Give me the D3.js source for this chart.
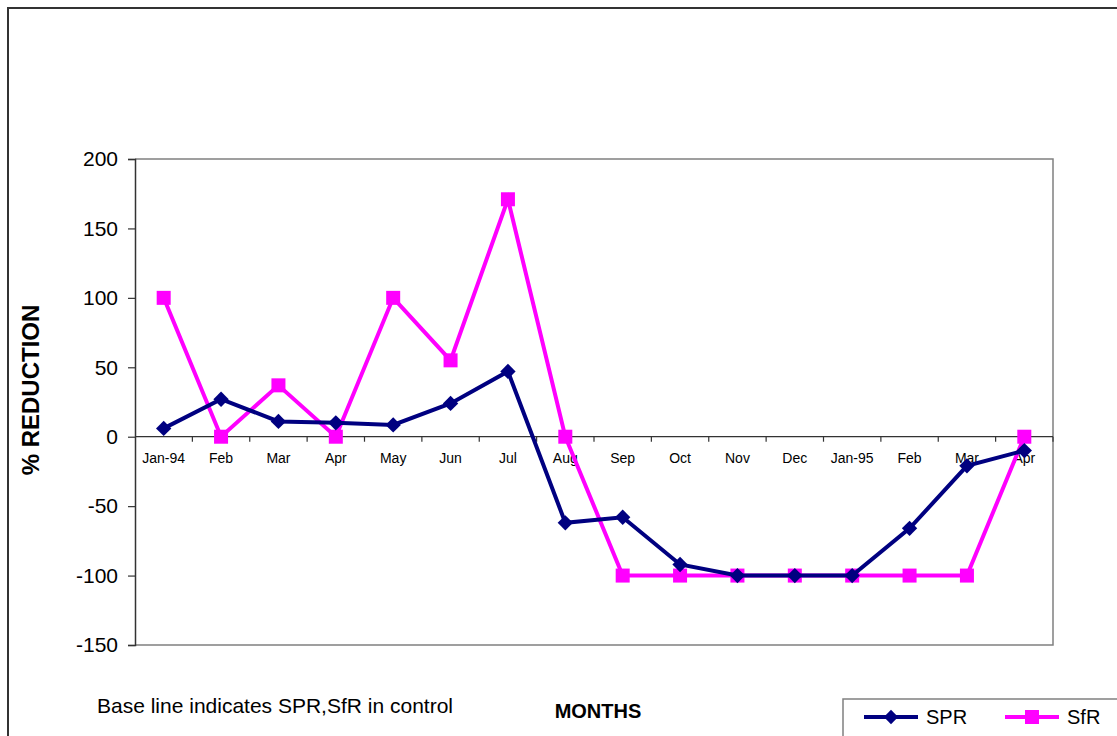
<!DOCTYPE html>
<html>
<head>
<meta charset="utf-8">
<script src="https://cdn.jsdelivr.net/npm/d3@7/dist/d3.min.js"></script>
<style>
  html, body { margin: 0; padding: 0; background: #fff; }
  svg { display: block; font-family: Arial, "Liberation Sans", sans-serif; }
</style>
</head>
<body>
<svg id="chart" width="1117" height="736"></svg>
<script>
// Monthly % reduction of SPR and SfR relative to control
const months = ["Jan-94", "Feb", "Mar", "Apr", "May", "Jun", "Jul", "Aug",
                "Sep", "Oct", "Nov", "Dec", "Jan-95", "Feb", "Mar", "Apr"];
const sprValues = [6, 27, 11, 10, 8.5, 24, 47, -62, -58, -92, -100, -100, -100, -66, -21, -10];
const sfrValues = [100, 0, 37, 0, 100, 55, 171, 0, -100, -100, -100, -100, -100, -100, -100, 0];
const yTicks = [-150, -100, -50, 0, 50, 100, 150, 200];

const svg = d3.select("#chart");
const plot = { left: 135, right: 1053, top: 159, bottom: 645 };

// months repeat, so the band scale is keyed by index
const x = d3.scaleBand()
  .domain(d3.range(months.length))
  .range([plot.left, plot.right]);
const y = d3.scaleLinear().domain([-150, 200]).range([plot.bottom, plot.top]);

// outer chart frame
svg.append("path")
  .attr("d", `M8,740 V8 H1120`)
  .attr("fill", "none")
  .attr("stroke", "#333")
  .attr("stroke-width", 2);

// plot area border (top, right, bottom)
svg.append("path")
  .attr("d", `M${plot.left},${plot.top} H${plot.right} V${plot.bottom} H${plot.left}`)
  .attr("fill", "none")
  .attr("stroke", "#808080")
  .attr("stroke-width", 1.5);

// y axis
const yAxis = svg.append("g")
  .attr("transform", `translate(${plot.left},0)`)
  .call(d3.axisLeft(y).tickValues(yTicks).tickSize(7).tickPadding(10).tickFormat(d => String(d)));
yAxis.select(".domain").attr("stroke", "#333").attr("stroke-width", 1.5);
yAxis.selectAll(".tick line").attr("stroke", "#333").attr("stroke-width", 1.2);
yAxis.selectAll(".tick text")
  .attr("font-size", 21)
  .attr("fill", "#000")
  .attr("font-family", "Arial, 'Liberation Sans', sans-serif");

// x axis along the zero line, ticks at band boundaries
const y0 = y(0);
const bounds = d3.range(months.length + 1).map(i => plot.left + i * x.step());
svg.append("line")
  .attr("x1", plot.left).attr("x2", plot.right)
  .attr("y1", y0).attr("y2", y0)
  .attr("stroke", "#333").attr("stroke-width", 1.2);
svg.append("g").selectAll("line").data(bounds.slice(1)).join("line")
  .attr("x1", d => d).attr("x2", d => d)
  .attr("y1", y0).attr("y2", y0 + 5)
  .attr("stroke", "#333").attr("stroke-width", 1.2);
svg.append("g").selectAll("text").data(months).join("text")
  .attr("x", (d, i) => x(i) + x.bandwidth() / 2)
  .attr("y", y0 + 26)
  .attr("text-anchor", "middle")
  .attr("font-size", 14)
  .attr("fill", "#000")
  .text(d => d);

const cx = i => x(i) + x.bandwidth() / 2;
const line = d3.line().x((d, i) => cx(i)).y(d => y(d));

// SfR series (magenta, squares)
svg.append("path")
  .attr("d", line(sfrValues))
  .attr("fill", "none")
  .attr("stroke", "#FF00FF")
  .attr("stroke-width", 4)
  .attr("stroke-linejoin", "miter");
svg.append("g").selectAll("rect").data(sfrValues).join("rect")
  .attr("x", (d, i) => cx(i) - 7)
  .attr("y", d => y(d) - 7)
  .attr("width", 14).attr("height", 14)
  .attr("fill", "#FF00FF");

// SPR series (navy, diamonds)
svg.append("path")
  .attr("d", line(sprValues))
  .attr("fill", "none")
  .attr("stroke", "#000080")
  .attr("stroke-width", 4)
  .attr("stroke-linejoin", "miter");
const diamond = d3.symbol().type(d3.symbolDiamond2).size(150);
svg.append("g").selectAll("path").data(sprValues).join("path")
  .attr("d", diamond)
  .attr("transform", (d, i) => `translate(${cx(i)},${y(d)})`)
  .attr("fill", "#000080");

// axis titles
svg.append("text")
  .attr("transform", `translate(39,${390}) rotate(-90)`)
  .attr("text-anchor", "middle")
  .attr("font-size", 24)
  .attr("font-weight", "bold")
  .text("% REDUCTION");
svg.append("text")
  .attr("x", 598).attr("y", 718)
  .attr("text-anchor", "middle")
  .attr("font-size", 20)
  .attr("font-weight", "bold")
  .text("MONTHS");

// note
svg.append("text")
  .attr("x", 97).attr("y", 713)
  .attr("font-size", 21)
  .text("Base line indicates SPR,SfR in control");

// legend
const legend = svg.append("g");
legend.append("rect")
  .attr("x", 843).attr("y", 699)
  .attr("width", 300).attr("height", 60)
  .attr("fill", "#fff")
  .attr("stroke", "#808080")
  .attr("stroke-width", 1.5);
const legendItems = [
  { name: "SPR", color: "#000080", x0: 864, shape: "diamond" },
  { name: "SfR", color: "#FF00FF", x0: 1005, shape: "square" }
];
legendItems.forEach(it => {
  legend.append("line")
    .attr("x1", it.x0).attr("x2", it.x0 + 54)
    .attr("y1", 717).attr("y2", 717)
    .attr("stroke", it.color).attr("stroke-width", 4);
  if (it.shape === "diamond") {
    legend.append("path")
      .attr("d", d3.symbol().type(d3.symbolDiamond2).size(130)())
      .attr("transform", `translate(${it.x0 + 27},717)`)
      .attr("fill", it.color);
  } else {
    legend.append("rect")
      .attr("x", it.x0 + 20).attr("y", 710)
      .attr("width", 14).attr("height", 14)
      .attr("fill", it.color);
  }
  legend.append("text")
    .attr("x", it.x0 + 62).attr("y", 724)
    .attr("font-size", 20)
    .text(it.name);
});
</script>
</body>
</html>
